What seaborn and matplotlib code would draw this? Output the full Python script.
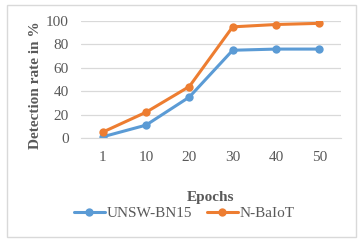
import seaborn as sns
import pandas as pd
import matplotlib.pyplot as plt
from matplotlib.patches import Rectangle

epochs = ["1", "10", "20", "30", "40", "50"]
unsw = [1, 11, 35, 75, 76, 76]
nbaiot = [5, 22, 44, 95, 97, 98]

df = pd.DataFrame({
    "Epochs": epochs * 2,
    "rate": unsw + nbaiot,
    "dataset": ["UNSW-BN15"] * 6 + ["N-BaIoT"] * 6,
})

sns.set_style("white")
plt.rcParams['font.family'] = ['Liberation Serif', 'DejaVu Serif']

fig = plt.figure(figsize=(3.61, 2.47), dpi=100)
ax = fig.add_axes([81 / 361, 1 - 138 / 247, 260 / 361, 117 / 247])

sns.lineplot(data=df, x="Epochs", y="rate", hue="dataset", sort=False,
             palette={"UNSW-BN15": "#5B9BD5", "N-BaIoT": "#ED7D31"},
             marker="o", markersize=6, markeredgewidth=0, linewidth=2.2, ax=ax)

ax.set_xlim(-0.5, 5.5)
ax.set_ylim(0, 100)
ax.set_yticks([0, 20, 40, 60, 80, 100])
ax.yaxis.grid(True, color="#D9D9D9", linewidth=0.9)
ax.set_axisbelow(True)
for s in ["top", "right", "left"]:
    ax.spines[s].set_visible(False)
ax.spines["bottom"].set_color("#D9D9D9")
ax.tick_params(axis="both", length=0, labelsize=11, labelcolor="#595959")
ax.tick_params(axis="x", pad=9)
ax.tick_params(axis="y", pad=9)

ax.set_xlabel("Epochs", fontsize=11, fontweight="bold", color="#595959", labelpad=20)
ax.set_ylabel("Detection rate in %", fontsize=11, fontweight="bold", color="#595959")
ax.yaxis.set_label_coords(-0.15, 0.45)

handles, labels = ax.get_legend_handles_labels()
ax.legend(handles, labels, loc="center", bbox_to_anchor=(0.51, 1 - 213 / 247),
          bbox_transform=fig.transFigure, ncol=2, frameon=False, fontsize=11,
          handlelength=2.0, columnspacing=1.0, handletextpad=0.1, labelcolor="#595959")

fig.patches.append(Rectangle((7 / 361, 1 - 237 / 247), 349 / 361, 232 / 247,
                             transform=fig.transFigure, fill=False,
                             edgecolor="#D9D9D9", linewidth=1))

fig.savefig("out.png", dpi=100)
